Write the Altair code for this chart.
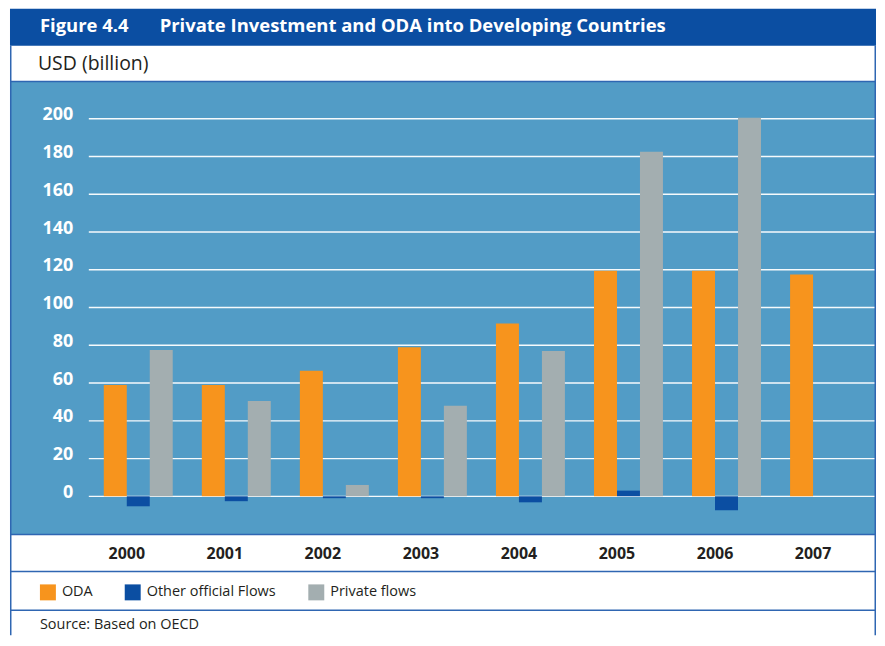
import altair as alt
import pandas as pd

# ---- data ----
years = ["2000", "2001", "2002", "2003", "2004", "2005", "2006", "2007"]
oda = [59.0, 59.0, 66.5, 79.0, 91.5, 119.5, 119.5, 117.5]
other_official = [-5.3, -2.6, -1.0, -1.0, -3.2, 3.0, -7.4, None]
private_flows = [77.5, 50.5, 6.0, 48.0, 77.0, 182.5, 200.5, None]
series = ["ODA", "Other official Flows", "Private flows"]
y_ticks = [0, 20, 40, 60, 80, 100, 120, 140, 160, 180, 200]

# ---- styles ----
FONT = "Open Sans"
HEADER = "#0b4ea2"
PANEL = "#529cc6"
LINE = "#2f66b2"
TEXT = "#231f20"
colors = ["#f7941d", "#0b4ea2", "#a3aeb0"]

rows = []
for i, yr in enumerate(years):
    for s, vals in zip(series, [oda, other_official, private_flows]):
        if vals[i] is not None:
            rows.append({"year": yr, "series": s, "value": vals[i]})
df = pd.DataFrame(rows)
grid_df = pd.DataFrame({"value": y_ticks})
one = pd.DataFrame({"k": [0]})

W, H = 868, 454

yscale = alt.Scale(domain=[-20.25, 219.7], nice=False, zero=False)
yaxis = alt.Axis(values=y_ticks, orient="left", offset=-63, domain=False, ticks=False,
                 tickSize=0, labelPadding=0, grid=False, title=None,
                 labelFont=FONT, labelFontSize=18, labelFontWeight="bold",
                 labelColor="white", labelBaseline="alphabetic", labelOffset=1,
                 labelAlign="right")
yenc = alt.Y("value:Q", scale=yscale, axis=yaxis)

bars = alt.Chart(df).mark_bar().encode(
    x=alt.X("year:N", sort=years,
            scale=alt.Scale(range=[94, 851], paddingInner=0.2966, paddingOuter=0),
            axis=alt.Axis(orient="bottom", domain=False, ticks=False, tickSize=0,
                          labelPadding=24, labelBaseline="alphabetic", labelOffset=-11.5,
                          labelFont=FONT, labelFontSize=16, labelFontWeight="bold",
                          labelColor=TEXT, labelAngle=0, title=None, grid=False)),
    xOffset=alt.XOffset("series:N", sort=series,
                        scale=alt.Scale(domain=series, paddingInner=0, paddingOuter=0)),
    y=yenc,
    color=alt.Color("series:N", sort=series,
                    scale=alt.Scale(domain=series, range=colors),
                    legend=alt.Legend(orient="none", legendX=30, legendY=504,
                                      direction="horizontal", title=None,
                                      symbolType="square", symbolSize=256,
                                      symbolStrokeWidth=0, symbolOpacity=1,
                                      labelFont=FONT, labelFontSize=14.5,
                                      labelColor=TEXT, labelOffset=6,
                                      columnPadding=32, padding=0)),
)

grid = alt.Chart(grid_df).mark_rule(color="white", strokeWidth=1.3, opacity=0.95).encode(
    y=yenc, x=alt.value(79), x2=alt.value(W)
)

def rect(x, x2, y, y2, color):
    return alt.Chart(one).mark_rect(color=color).encode(
        x=alt.value(x), x2=alt.value(x2), y=alt.value(y), y2=alt.value(y2))

def hline(y, width=1.5):
    return alt.Chart(one).mark_rule(color=LINE, strokeWidth=width).encode(
        x=alt.value(0), x2=alt.value(W), y=alt.value(y))

def vline(x):
    return alt.Chart(one).mark_rule(color=LINE, strokeWidth=1.5).encode(
        x=alt.value(x), y=alt.value(-36), y2=alt.value(555))

def label(txt, x, y, size, weight="normal", color=TEXT):
    return alt.Chart(one).mark_text(text=txt, align="left", baseline="alphabetic",
                                    font=FONT, fontSize=size, fontWeight=weight,
                                    color=color).encode(x=alt.value(x), y=alt.value(y))

header = rect(0, W, -73, -36, HEADER)

chart = alt.layer(
    header,
    grid,
    bars,
    hline(0), hline(H), hline(491), hline(530),
    vline(0.75), vline(W - 0.75),
    label("Figure 4.4", 30, -49.5, 18.5, "bold", "white"),
    label("Private Investment and ODA into Developing Countries", 150, -49.5, 18.5, "bold", "white"),
    label("USD (billion)", 28, -11.7, 19.5),
    label("Source:  Based on OECD", 30, 549, 14.5),
).properties(
    width=W, height=H,
    autosize=alt.AutoSizeParams(type="none"),
    padding={"left": 2, "top": 73, "right": 1, "bottom": 101},
).configure(background="white").configure_view(fill=PANEL, stroke=None)

chart.save("out.html", embed_options={"renderer": "svg", "actions": False})
